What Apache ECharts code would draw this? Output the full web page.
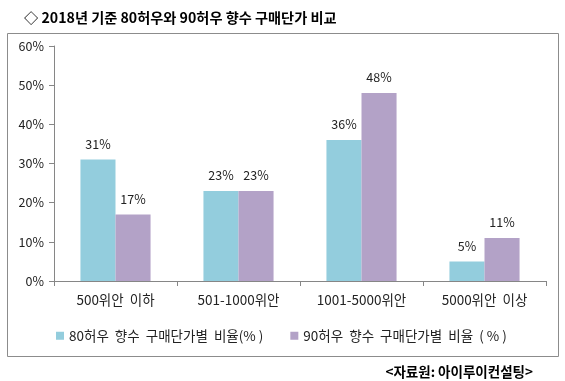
<!DOCTYPE html>
<html><head><meta charset="utf-8">
<script src="https://cdn.jsdelivr.net/npm/echarts@6/dist/echarts.min.js"></script>
<style>html,body{margin:0;padding:0;background:#fff}#c{width:565px;height:381px}</style>
</head><body><div id="c"></div>
<script>
const categories = ['500위안  이하', '501-1000위안', '1001-5000위안', '5000위안  이상'];
const series80 = [31, 23, 36, 5];
const series90 = [17, 23, 48, 11];
const seriesNames = ['80허우  향수  구매단가별  비율(% )', '90허우  향수  구매단가별  비율  ( % )'];
const yTicks = [0, 10, 20, 30, 40, 50, 60];
const titleText = '◇ 2018년 기준 80허우와 90허우 향수 구매단가 비교';
const sourceText = '<자료원: 아이루이컨설팅>';

const FONT = '"Noto Sans CJK KR", "Noto Sans", sans-serif';
const chart = echarts.init(document.getElementById('c'), null, {renderer: 'canvas'});
const lbl = {show: true, position: 'top', distance: 9, formatter: p => p.value + '%', color: '#222', fontSize: 12.5, fontFamily: FONT};
chart.setOption({
  animation: false,
  textStyle: {fontFamily: FONT},
  title: [
    {text: titleText, left: 19, top: 6, textStyle: {fontSize: 14.2, fontWeight: 'bold', color: '#000', fontFamily: FONT}},
    {text: sourceText, right: 27, top: 360, textStyle: {fontSize: 13.5, fontWeight: 'bold', color: '#000', fontFamily: FONT}}
  ],
  graphic: [{type: 'rect', shape: {x: 7.5, y: 33.5, width: 551, height: 323}, style: {fill: 'none', stroke: '#8c8c8c', lineWidth: 1}, z: -1}],
  legend: {
    top: 324, left: 51, itemWidth: 8, itemHeight: 8, itemGap: 27, icon: 'rect',
    textStyle: {fontSize: 13.5, color: '#222', fontFamily: FONT},
    data: seriesNames
  },
  grid: {left: 54, right: 19, top: 46, bottom: 100, containLabel: false},
  xAxis: {
    type: 'category', data: categories,
    axisLine: {lineStyle: {color: '#868686'}},
    axisTick: {show: true, length: 5, lineStyle: {color: '#868686'}},
    axisLabel: {color: '#222', fontSize: 13.5, margin: 12, fontFamily: FONT}
  },
  yAxis: {
    type: 'value', min: yTicks[0], max: yTicks[yTicks.length - 1], interval: 10,
    axisLine: {show: true, lineStyle: {color: '#868686'}},
    axisTick: {show: true, length: 5, inside: false, lineStyle: {color: '#868686'}},
    splitLine: {show: false},
    axisLabel: {formatter: v => v + '%', color: '#222', fontSize: 12.5, margin: 10, fontFamily: FONT}
  },
  series: [
    {name: seriesNames[0], type: 'bar', data: series80, barGap: '0%', barCategoryGap: '43%', itemStyle: {color: '#93CDDD'}, label: lbl},
    {name: seriesNames[1], type: 'bar', data: series90, itemStyle: {color: '#B3A2C7'}, label: lbl}
  ]
});
</script></body></html>
